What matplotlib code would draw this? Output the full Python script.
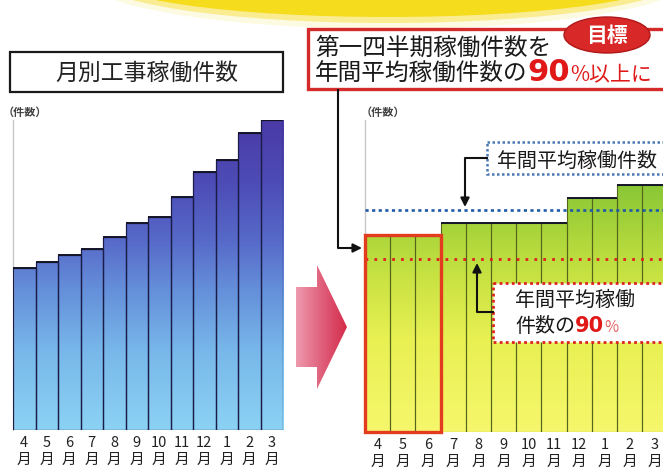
import numpy as np
import matplotlib
matplotlib.use('Agg')
import matplotlib.pyplot as plt
from matplotlib.patches import Rectangle, Ellipse, Polygon
from matplotlib.colors import LinearSegmentedColormap

plt.rcParams['font.family'] = ['Noto Sans CJK JP', 'DejaVu Sans']

# ---------------- data ----------------
months = ['4', '5', '6', '7', '8', '9', '10', '11', '12', '1', '2', '3']
left_counts = [162, 168, 175, 181, 193, 207, 213, 233, 258, 270, 297, 310]
right_counts = [197, 197, 197, 209, 209, 209, 209, 209, 234, 234, 247, 247]
annual_avg = 222
annual_avg_90 = 173
q1_months = 3

left_title = '月別工事稼働件数'
unit_label = '（件数）'
goal_badge = '目標'
goal_line1 = '第一四半期稼働件数を'
goal_line2 = ['年間平均稼働件数の', '90', '%以上に']
avg_label = '年間平均稼働件数'
avg90_label1 = '年間平均稼働'
avg90_label2 = ['件数の', '90', '%']

# ---------------- figure ----------------
W, H = 663, 468
fig = plt.figure(figsize=(W / 100, H / 100), dpi=100)
fig.patch.set_facecolor('white')


def rect(x0, y0, x1, y1):
    return [x0 / W, 1 - y1 / H, (x1 - x0) / W, (y1 - y0) / H]


blue_cmap = LinearSegmentedColormap.from_list(
    'bl', [(0, '#8cd2f4'), (0.25, '#78b8ea'), (0.45, '#6590da'),
           (0.62, '#5668c8'), (0.8, '#4d4cb6'), (1, '#4a3aa6')])
green_cmap = LinearSegmentedColormap.from_list(
    'gr', [(0, '#f6f76c'), (0.3, '#e8f052'), (0.5, '#c8e242'),
           (0.65, '#a8d43a'), (0.8, '#88c636'), (1, '#72b42e')])


def gradient_bars(ax, vals, cmap, ymax, edge, lw):
    n = len(vals)
    x = np.arange(n)
    bars = ax.bar(x, vals, width=1.0, facecolor='none', edgecolor=edge,
                  linewidth=lw, zorder=3)
    grad = np.linspace(0, 1, 256)[:, None]
    for b in bars:
        im = ax.imshow(grad, cmap=cmap, aspect='auto', origin='lower',
                       extent=(-0.5, n - 0.5, 0, ymax), zorder=2,
                       interpolation='bilinear')
        im.set_clip_path(b)
    # darker top edges
    ax.hlines(vals, x - 0.5, x + 0.5, color='#141428', lw=1.4, zorder=4)
    ax.set_xlim(-0.5, n - 0.5)
    ax.set_ylim(0, ymax)
    ax.set_xticks(x)
    ax.set_xticklabels([f'{m}\n月' for m in months], fontsize=10.5,
                       linespacing=1.33, color='#222')
    ax.tick_params(axis='x', length=0, pad=4)
    ax.set_yticks([])
    for s in ['top', 'right', 'bottom']:
        ax.spines[s].set_visible(False)
    ax.spines['left'].set_color('#c8c8c8')
    ax.spines['left'].set_linewidth(1.0)
    ax.patch.set_alpha(0)
    return bars


axL = fig.add_axes(rect(13, 120, 283, 430), zorder=1)
gradient_bars(axL, left_counts, blue_cmap, 310, '#1c1c48', 0.9)

axR = fig.add_axes(rect(365, 120, 365 + 12 * 25.2, 432), zorder=1)
gradient_bars(axR, right_counts, green_cmap, 312, '#55661a', 0.8)
axR.axhline(annual_avg, color='#1f5aa8', lw=1.9, linestyle=(0, (1.2, 1.3)),
            zorder=5)
axR.axhline(annual_avg_90, color='#e02020', lw=2.0, linestyle=(0, (1, 2.2)),
            zorder=5)
axR.add_patch(Rectangle((-0.5, 0), q1_months, max(right_counts[:q1_months]),
                        fill=False, edgecolor='#e23b1e', lw=2.4, zorder=6,
                        clip_on=False))

# ---------------- overlay ----------------
ax0 = fig.add_axes([0, 0, 1, 1], zorder=5)
ax0.patch.set_alpha(0)
ax0.axis('off')
ax0.set_xlim(0, W)
ax0.set_ylim(H, 0)
ax0.set_autoscale_on(False)

# yellow glow at top
for (w, h, a, c) in [(610, 104, 0.3, '#fbf0a0'), (590, 92, 0.6, '#f9e45a'),
                     (568, 80, 1.0, '#f5dc1c')]:
    ax0.add_patch(Ellipse((388, -23), w, h, color=c, alpha=a, lw=0))

# left title box
ax0.add_patch(Rectangle((10, 52), 273, 40, facecolor='white',
                        edgecolor='#1a1a1a', lw=1.6))
ax0.text(147, 80, left_title, ha='center', va='baseline', fontsize=16.5,
         color='#222')

ax0.text(3, 116, unit_label, ha='left', va='baseline', fontsize=8,
         color='#444', fontweight='bold')
ax0.text(361, 116, unit_label, ha='left', va='baseline', fontsize=8,
         color='#444', fontweight='bold')

# pink arrow
arrow_pts = [(296, 287), (317, 287), (317, 265), (347, 327), (317, 389),
             (317, 367), (296, 367)]
poly = Polygon(arrow_pts, closed=True, facecolor='none', edgecolor='none')
ax0.add_patch(poly)
pink_cmap = LinearSegmentedColormap.from_list('pk', ['#ee9aae', '#e0607c',
                                                     '#d42c4a'])
im = ax0.imshow(np.linspace(0, 1, 256)[None, :], cmap=pink_cmap,
                aspect='auto', extent=(296, 347, 389, 265), zorder=1)
im.set_clip_path(poly)
ax0.set_xlim(0, W)
ax0.set_ylim(H, 0)

renderer = fig.canvas.get_renderer()


def chain(x, y, parts):
    for s, kw in parts:
        t = ax0.text(x, y, s, ha='left', va='baseline', **kw)
        bb = t.get_window_extent(renderer)
        x = ax0.transData.inverted().transform((bb.x1, 0))[0]
    return x


# right goal box
ax0.add_patch(Rectangle((308, 29), 420, 60, facecolor='white',
                        edgecolor='#d42a2a', lw=2.4))
ax0.text(315, 55, goal_line1, ha='left', va='baseline', fontsize=17,
         color='#1a1a1a')
chain(315, 81, [
    (goal_line2[0], dict(fontsize=17, color='#1a1a1a')),
    (goal_line2[1], dict(fontsize=22, color='#e01818', fontweight='bold',
                         family='DejaVu Sans')),
    (goal_line2[2], dict(fontsize=15, color='#e01818')),
])

# badge
ax0.add_patch(Ellipse((607, 35), 86, 36, facecolor='#d82828',
                      edgecolor='#b01818', lw=1))
ax0.text(607, 36, goal_badge, ha='center', va='center', fontsize=15,
         color='white', fontweight='bold')

# connectors
lc = '#111111'
ax0.plot([338, 338, 352], [89, 248, 248], color=lc, lw=1.5,
         solid_capstyle='butt')
ax0.annotate('', xy=(362, 248), xytext=(350, 248),
             arrowprops=dict(arrowstyle='-|>', color=lc, lw=1.5,
                             mutation_scale=13, shrinkA=0, shrinkB=0))

# blue label
ax0.add_patch(Rectangle((487, 142), 250, 32, facecolor='white',
                        edgecolor='#4a78b4', lw=1.8, linestyle=(0, (1, 1))))
ax0.text(497, 167, avg_label, ha='left', va='baseline', fontsize=14.4,
         color='#1a1a1a')
ax0.plot([487, 465, 465], [158, 158, 196], color=lc, lw=1.5)
ax0.annotate('', xy=(465, 207), xytext=(465, 194),
             arrowprops=dict(arrowstyle='-|>', color=lc, lw=1.5,
                             mutation_scale=13, shrinkA=0, shrinkB=0))

# red label
ax0.add_patch(Rectangle((493, 283), 250, 59, facecolor='white',
                        edgecolor='#dd2222', lw=2.0, linestyle=(0, (1, 1.2))))
ax0.text(515, 306, avg90_label1, ha='left', va='baseline', fontsize=14.4,
         color='#1a1a1a')
chain(515, 332, [
    (avg90_label2[0], dict(fontsize=14.4, color='#1a1a1a')),
    (avg90_label2[1], dict(fontsize=15, color='#e01818', fontweight='bold',
                           family='DejaVu Sans')),
    (avg90_label2[2], dict(fontsize=11, color='#e86060')),
])
ax0.plot([493, 477, 477], [312, 312, 275], color=lc, lw=1.5)
ax0.annotate('', xy=(477, 263), xytext=(477, 277),
             arrowprops=dict(arrowstyle='-|>', color=lc, lw=1.5,
                             mutation_scale=13, shrinkA=0, shrinkB=0))

ax0.set_xlim(0, W)
ax0.set_ylim(H, 0)

fig.savefig('out.png', dpi=100, facecolor='white')
